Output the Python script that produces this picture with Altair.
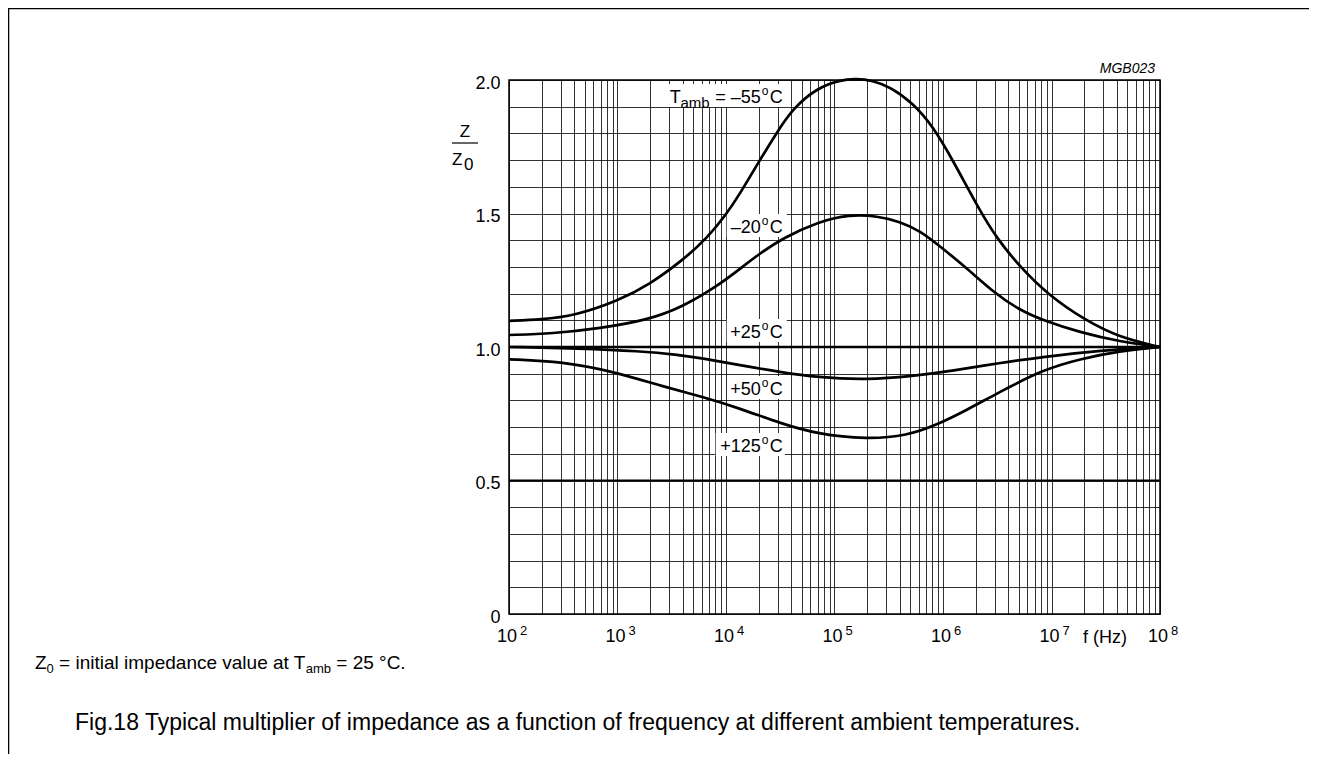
import altair as alt
import pandas as pd

# ---------------- data ----------------
# log10(frequency / Hz) and Z/Z0 for every curve
M55_LOGF = [2.0, 2.3, 2.6, 3.0, 3.3, 3.6, 3.82, 4.0, 4.13, 4.29, 4.47, 4.62, 4.84, 5.05, 5.2,
            5.35, 5.51, 5.72, 5.91, 6.09, 6.34, 6.5, 6.71, 6.97, 7.31, 7.63, 8.0]
M55_Z = [1.098, 1.103, 1.117, 1.172, 1.235, 1.325, 1.405, 1.495, 1.575, 1.685, 1.805, 1.895, 1.97,
         2.0, 2.005, 1.998, 1.975, 1.915, 1.825, 1.70, 1.51, 1.405, 1.30, 1.195, 1.10, 1.035, 1.0]

M20_LOGF = [2.0, 2.4, 2.84, 3.27, 3.6, 3.92, 4.13, 4.31, 4.525, 4.84, 5.14, 5.4, 5.6, 5.79,
            5.97, 6.22, 6.48, 6.7, 6.92, 7.26, 7.63, 8.0]
M20_Z = [1.045, 1.05, 1.07, 1.10, 1.15, 1.228, 1.293, 1.35, 1.408, 1.468, 1.497, 1.49, 1.47, 1.435,
         1.378, 1.295, 1.20, 1.14, 1.10, 1.055, 1.02, 1.0]

P25_LOGF = [2.0, 8.0]
P25_Z = [1.0, 1.0]

P50_LOGF = [2.0, 2.65, 3.2, 3.58, 3.76, 4.13, 4.5, 4.84, 5.3, 5.72, 6.09, 6.52, 6.92, 7.45, 8.0]
P50_Z = [1.0, 0.995, 0.985, 0.97, 0.959, 0.932, 0.906, 0.886, 0.877, 0.891, 0.911, 0.94, 0.963, 0.988, 1.0]

P125_LOGF = [2.0, 2.5, 2.96, 3.42, 3.76, 4.13, 4.5, 4.84, 5.3, 5.67, 5.94, 6.22, 6.5, 6.92, 7.26, 7.63, 8.0]
P125_Z = [0.954, 0.945, 0.908, 0.852, 0.816, 0.77, 0.714, 0.674, 0.654, 0.668, 0.708, 0.764, 0.827,
          0.915, 0.955, 0.985, 1.0]

SERIES = ["-55", "-20", "+25", "+50", "+125"]
SERIES_LOGF = [M55_LOGF, M20_LOGF, P25_LOGF, P50_LOGF, P125_LOGF]
SERIES_Z = [M55_Z, M20_Z, P25_Z, P50_Z, P125_Z]

# curve labels: text, anchor log10(f), anchor Z/Z0 (text baseline)
LABEL_TEXT = ["= –55", "–20", "+25", "+50", "+125"]
LABEL_LOGF = [4.32, 4.32, 4.32, 4.32, 4.32]
LABEL_Z = [1.914, 1.427, 1.034, 0.82, 0.607]

DECADES = [2, 3, 4, 5, 6, 7, 8]
Y_GRID = [round(i * 0.1, 1) for i in range(21)]
X_GRID = [m * 10 ** k for k in range(2, 8) for m in range(1, 10)] + [10 ** 8]

FONT = "Liberation Sans"
PLOT_W, PLOT_H = 651, 534
PX_PER_DECADE = PLOT_W / 6.0
PX_PER_UNIT = PLOT_H / 2.0

# ---------------- tables ----------------
rows = []
for name, lf, zz in zip(SERIES, SERIES_LOGF, SERIES_Z):
    for a, b in zip(lf, zz):
        rows.append({"series": name, "f": 10 ** a, "z": b})
curves = pd.DataFrame(rows)

labels = pd.DataFrame({"main": LABEL_TEXT,
                       "f": [10 ** v for v in LABEL_LOGF],
                       "z": LABEL_Z})

# white boxes behind the curve labels: pixel extent left/right of anchor, converted to data units
BOX = [(-98, 25), (-34, 26), (-34, 26), (-33, 24), (-45, 24)]
BOX_UP, BOX_DOWN = 19, 4
boxes_df = pd.DataFrame({
    "f1": [10 ** (lf + l / PX_PER_DECADE) for lf, (l, r) in zip(LABEL_LOGF, BOX)],
    "f2": [10 ** (lf + r / PX_PER_DECADE) for lf, (l, r) in zip(LABEL_LOGF, BOX)],
    "z1": [z - BOX_DOWN / PX_PER_UNIT for z in LABEL_Z],
    "z2": [z + BOX_UP / PX_PER_UNIT for z in LABEL_Z],
})

decades = pd.DataFrame({"f": [10 ** d for d in DECADES], "exp": [str(d) for d in DECADES]})
one = alt.Data(values=[{}])

xs = alt.Scale(type="log", domain=[1e2, 1e8], nice=False)
ys = alt.Scale(domain=[0, 2], nice=False, zero=False)

GRID = dict(gridColor="#000000", gridOpacity=0.8, gridWidth=1)
X_AXIS = alt.Axis(values=X_GRID, grid=True, labels=False, ticks=False, domain=False, title=None, **GRID)
Y_AXIS = alt.Axis(
    values=Y_GRID, grid=True, ticks=False, domain=False, title=None,
    labelExpr="round(datum.value*10)%5==0 ? (datum.value==0 ? '0' : format(datum.value,'.1f')) : ''",
    labelFont=FONT, labelFontSize=18, labelColor="black", labelPadding=9, labelOffset=3,
    **GRID)


def X(field="f"):
    return alt.X(f"{field}:Q", scale=xs, axis=X_AXIS)


def Y(field="z"):
    return alt.Y(f"{field}:Q", scale=ys, axis=Y_AXIS)


# ---------------- layers ----------------
curve_layer = alt.Chart(curves).mark_line(
    color="black", strokeWidth=2.7, interpolate="basis"
).encode(x=X(), y=Y(), detail="series:N")

half_rule = alt.Chart(pd.DataFrame({"z": [0.5]})).mark_rule(color="black", strokeWidth=1.8).encode(y=Y())

boxes = alt.Chart(boxes_df).mark_rect(color="white", fill="white", opacity=1).encode(
    x=X("f1"), x2="f2:Q", y=Y("z1"), y2="z2:Q")

lab_main = alt.Chart(labels).mark_text(align="right", baseline="alphabetic", font=FONT,
                                       fontSize=18, color="black").encode(text="main:N", x=X(), y=Y())
lab_deg = alt.Chart(labels).mark_text(align="left", baseline="alphabetic", font=FONT, fontSize=12,
                                      color="black", dx=1, dy=-8).encode(text=alt.value("o"), x=X(), y=Y())
lab_c = alt.Chart(labels).mark_text(align="left", baseline="alphabetic", font=FONT, fontSize=18,
                                    color="black", dx=9).encode(text=alt.value("C"), x=X(), y=Y())
first = labels.iloc[[0]]
lab_amb = alt.Chart(first).mark_text(align="right", baseline="alphabetic", font=FONT, fontSize=15,
                                     color="black", dx=-51, dy=5).encode(text=alt.value("amb"), x=X(), y=Y())
lab_T = alt.Chart(first).mark_text(align="right", baseline="alphabetic", font=FONT, fontSize=18,
                                   color="black", dx=-80).encode(text=alt.value("T"), x=X(), y=Y())

# x tick labels: "10" with raised exponent
tick_ten = alt.Chart(decades).mark_text(align="right", baseline="alphabetic", font=FONT, fontSize=18,
                                        color="black", dx=8).encode(
    x=X(), y=alt.value(562), text=alt.value("10"))
tick_exp = alt.Chart(decades).mark_text(align="left", baseline="alphabetic", font=FONT, fontSize=13,
                                        color="black", dx=11).encode(
    x=X(), y=alt.value(555), text="exp:N")


def txt(s, x, y, size=18, align="left", style="normal"):
    return alt.Chart(one).mark_text(align=align, baseline="alphabetic", font=FONT, fontSize=size,
                                    color="black", fontStyle=style).encode(
        x=alt.value(x), y=alt.value(y), text=alt.value(s))


fhz = txt("f (Hz)", 574, 563)
code = txt("MGB023", 646, -7, size=14, align="right", style="italic")

# y-axis title Z / Z0
yt1 = txt("Z", -44, 57, size=17, align="center")
ybar = alt.Chart(one).mark_rule(color="black", strokeWidth=1.2).encode(
    x=alt.value(-57), x2=alt.value(-31), y=alt.value(63))
yt2 = txt("Z", -57, 85, size=17)
yt3 = txt("0", -45, 90, size=17)

# footnote with subscripts, pieces chained by Arial advance widths
W = {' ': 278, '=': 584, '.': 278, '°': 400, 'C': 722, 'T': 611, 'Z': 611, 'a': 556, 'b': 556,
     'c': 500, 'd': 556, 'e': 556, 'i': 222, 'l': 222, 'm': 833, 'n': 556, 'p': 556, 't': 278,
     'u': 556, 'v': 500}


def tw(s, size):
    return sum(W.get(c, 556) for c in s) / 1000 * size


FOOT = [("Z", 19, 0), ("0", 13, 4), (" = initial impedance value at T", 19, 0), ("amb", 13, 4),
        (" = 25 °C.", 19, 0)]
foot_layers = []
cx = -474
for s, size, dy in FOOT:
    lead = len(s) - len(s.lstrip(" "))
    foot_layers.append(txt(s.strip(" "), cx + tw(" " * lead, size), 589 + dy, size=size))
    cx += tw(s, size)

caption = txt("Fig.18  Typical multiplier of impedance as a function of frequency at different ambient temperatures.",
              -434, 650, size=23)

# page frame lines (left and top)
frame_left = alt.Chart(one).mark_rule(color="black", strokeWidth=1.5).encode(
    x=alt.value(-500.5), y=alt.value(-72), y2=alt.value(674))
frame_top = alt.Chart(one).mark_rule(color="black", strokeWidth=1.5).encode(
    x=alt.value(-501), x2=alt.value(800), y=alt.value(-71.5))

chart = alt.layer(
    boxes, half_rule, curve_layer, lab_main, lab_deg, lab_c, lab_amb, lab_T,
    tick_ten, tick_exp, fhz, code, yt1, ybar, yt2, yt3, *foot_layers, caption,
    frame_left, frame_top,
).properties(
    width=PLOT_W, height=PLOT_H,
    padding={"left": 501, "top": 72, "right": 150, "bottom": 140},
    autosize=alt.AutoSizeParams(type="none"),
).configure_view(stroke="black", strokeWidth=1.5)

chart.save("out.html", embed_options={"renderer": "svg", "actions": False})
